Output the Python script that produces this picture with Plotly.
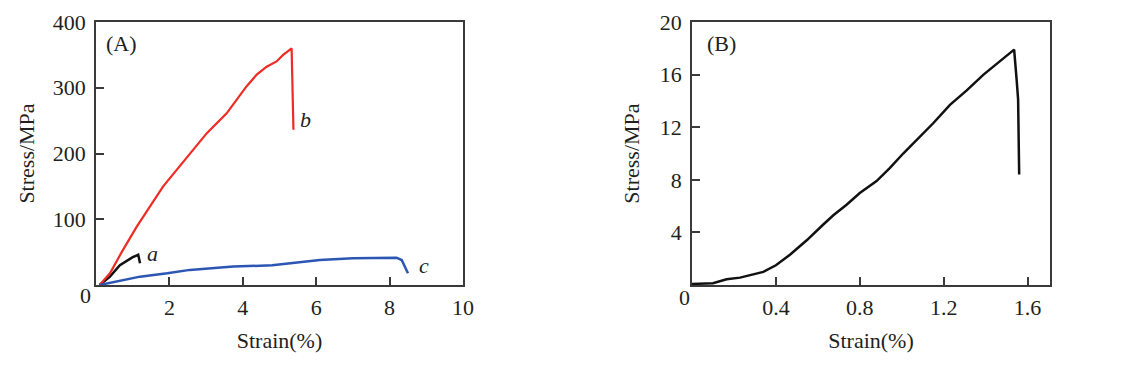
import plotly.graph_objects as go

# Panel A data (strain %, stress MPa)
a_strain = [0.1, 0.38, 0.65, 0.99, 1.15, 1.2]
a_stress = [0, 12.7, 30, 42, 46, 33]

b_strain = [0.1, 0.38, 0.7, 1.11, 1.83, 2.56, 3.02, 3.56, 4.1, 4.38, 4.65, 4.92, 5.1, 5.33, 5.36, 5.38]
b_stress = [0, 17.8, 50, 88.8, 150, 200, 231, 261, 302, 320, 332, 340, 350, 360, 300, 236]

c_strain = [0.1, 1.2, 1.94, 2.56, 3.74, 4.8, 6.1, 7.0, 8.19, 8.33, 8.5]
c_stress = [0, 12.7, 17.8, 23, 28, 30, 38, 40.6, 41.6, 38, 17.8]

# Panel B data
d_strain = [0.0, 0.10, 0.165, 0.229, 0.34, 0.40, 0.467, 0.547, 0.626, 0.674, 0.737, 0.80, 0.88,
            0.944, 1.007, 1.07, 1.15, 1.23, 1.31, 1.39, 1.468, 1.536, 1.548, 1.555, 1.56]
d_stress = [0.08, 0.13, 0.43, 0.56, 1.0, 1.5, 2.3, 3.4, 4.6, 5.3, 6.1, 7.0, 7.9,
            8.9, 10.0, 11.0, 12.3, 13.7, 14.8, 16.0, 17.0, 17.9, 15.6, 14.1, 8.4]

a_xticks = [2, 4, 6, 8, 10]
a_yticks = [100, 200, 300, 400]
b_xticks = [0.4, 0.8, 1.2, 1.6]
b_yticks = [4, 8, 12, 16, 20]

FONT = "Liberation Serif"
FS = 22
TXT = "#231f20"
AX = "#3a3a3a"

fig = go.Figure()
fig.add_trace(go.Scatter(x=a_strain, y=a_stress, mode="lines", line=dict(color="#111111", width=2.5),
                         xaxis="x", yaxis="y", showlegend=False))
fig.add_trace(go.Scatter(x=b_strain, y=b_stress, mode="lines", line=dict(color="#ee2b24", width=2.2),
                         xaxis="x", yaxis="y", showlegend=False))
fig.add_trace(go.Scatter(x=c_strain, y=c_stress, mode="lines", line=dict(color="#2b56b3", width=2.5),
                         xaxis="x", yaxis="y", showlegend=False))
fig.add_trace(go.Scatter(x=d_strain, y=d_stress, mode="lines", line=dict(color="#111111", width=2.5),
                         xaxis="x2", yaxis="y2", showlegend=False))

axcommon = dict(showline=True, linecolor=AX, linewidth=1.5, mirror=True, ticks="inside",
                ticklen=8, tickwidth=1.5, tickcolor=AX, showgrid=False, zeroline=False,
                automargin=False,
                tickfont=dict(family=FONT, size=FS, color=TXT),
                title_font=dict(family=FONT, size=FS, color=TXT))

fig.update_layout(
    width=1133, height=375,
    margin=dict(l=0, r=0, t=22, b=90, autoexpand=False),
    paper_bgcolor="white", plot_bgcolor="white",
    xaxis=dict(domain=[96/1133, 463/1133], range=[0, 10], tickvals=a_xticks,
               ticklabelstandoff=2,
               title=dict(text="Strain(%)", standoff=13), anchor="y", **axcommon),
    yaxis=dict(domain=[0, 1], range=[0, 400], tickvals=a_yticks,
               ticklabelstandoff=4,
               title=dict(text="Stress/MPa", standoff=12), anchor="x", **axcommon),
    xaxis2=dict(domain=[692/1133, 1050/1133], range=[0, 1.707], tickvals=b_xticks,
                tickformat=".1f", ticklabelstandoff=2,
                title=dict(text="Strain(%)", standoff=13), anchor="y2", **axcommon),
    yaxis2=dict(domain=[0, 1], range=[0, 20], tickvals=b_yticks,
                ticklabelstandoff=4,
                title=dict(text="Stress/MPa", standoff=14), anchor="x2", **axcommon),
)

ann = dict(font=dict(family=FONT, size=FS, color=TXT), showarrow=False)
fig.add_annotation(x=0.07, y=0.92, xref="x domain", yref="y domain", text="(A)",
                   xanchor="center", yanchor="middle", **ann)
fig.add_annotation(x=0.083, y=0.92, xref="x2 domain", yref="y2 domain", text="(B)",
                   xanchor="center", yanchor="middle", **ann)
fig.add_annotation(x=0, y=0, xref="x domain", yref="y domain", text="0",
                   xanchor="right", yanchor="top", xshift=-3, yshift=4, **ann)
fig.add_annotation(x=0, y=0, xref="x2 domain", yref="y2 domain", text="0",
                   xanchor="right", yanchor="top", xshift=0, yshift=2, **ann)
fig.add_annotation(x=1.55, y=48, xref="x", yref="y", text="<i>a</i>", **ann)
fig.add_annotation(x=5.72, y=251, xref="x", yref="y", text="<i>b</i>", **ann)
fig.add_annotation(x=8.94, y=29, xref="x", yref="y", text="<i>c</i>", **ann)

fig.write_html("out.html", config={"displayModeBar": False},
               post_script="document.body.style.margin='0';")
